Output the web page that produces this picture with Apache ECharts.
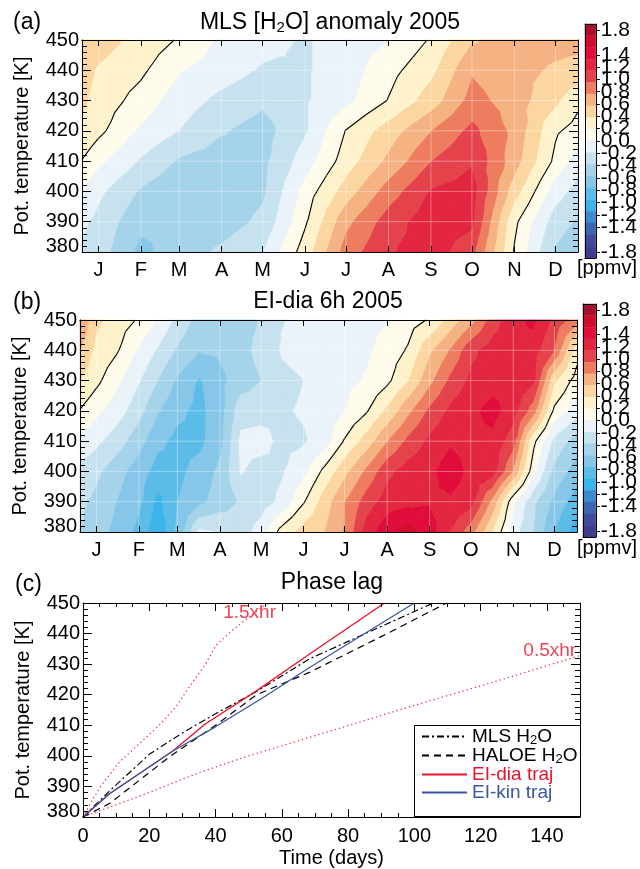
<!DOCTYPE html>
<html><head><meta charset="utf-8">
<script src="https://cdn.jsdelivr.net/npm/echarts@6/dist/echarts.min.js"></script>
<style>html,body{margin:0;padding:0;background:#fff}#c{width:640px;height:869px}</style>
</head><body><div id="c"></div>
<script>
const FONT = '"Liberation Sans", Arial, Helvetica, sans-serif';

// ---------- shared axes ----------
const monthDays = [15,46,74,105,135,166,196,227,258,288,319,349];
const monthLabels = ['J','F','M','A','M','J','J','A','S','O','N','D'];
const levelsK = [380,390,400,410,420,430,440,450];

// ---------- panel (a): MLS H2O anomaly 2005 (ppmv), rows = levelsK ----------
const mlsDays = [3,15,46,74,105,135,166,196,227,258,288,319,349,365.5];
const mlsAnomaly = [
  [-0.42,-0.50,-0.85,-0.70,-0.56,-0.40, 0.10, 0.70, 0.98, 1.10, 0.88,-0.02,-0.62,-0.75], // 380
  [-0.36,-0.45,-0.75,-0.75,-0.70,-0.55,-0.03, 0.55, 0.90, 1.12, 1.05, 0.05,-0.50,-0.62], // 390
  [-0.20,-0.35,-0.62,-0.75,-0.75,-0.63,-0.12, 0.30, 0.70, 1.02, 1.10, 0.30,-0.30,-0.48], // 400
  [-0.01,-0.15,-0.42,-0.62,-0.70,-0.65,-0.30, 0.10, 0.45, 0.80, 0.98, 0.50,-0.05,-0.30], // 410
  [ 0.17, 0.05,-0.23,-0.40,-0.58,-0.68,-0.42, 0.01, 0.30, 0.60, 0.86, 0.55, 0.03,-0.08], // 420
  [ 0.25, 0.12,-0.08,-0.30,-0.45,-0.56,-0.42,-0.25, 0.01, 0.30, 0.68, 0.50, 0.25, 0.05], // 430
  [ 0.30, 0.18, 0.04,-0.18,-0.30,-0.42,-0.42,-0.30,-0.07, 0.15, 0.58, 0.45, 0.38, 0.35], // 440
  [ 0.35, 0.30, 0.13,-0.02,-0.23,-0.33,-0.42,-0.30,-0.20, 0.02, 0.38, 0.48, 0.45, 0.45]  // 450
];

// ---------- panel (b): EI-dia 6h 2005 (ppmv), rows = levelsK ----------
const eiDays = [3,15,30,46,60,74,90,105,120,135,150,166,181,196,212,227,242,258,273,288,304,319,334,349,365.5];
const eiAnomaly = [
  [-0.60,-0.72,-0.85,-1.05,-1.35,-0.95,-0.35,-0.40,-0.50,-0.30, 0.08, 0.30, 0.40, 0.62, 1.10, 1.35, 1.50, 1.30, 1.00, 0.70, 0.20,-0.30,-0.60,-1.00,-1.30], // 380
  [-0.55,-0.65,-0.80,-0.95,-1.25,-1.00,-0.85,-0.70,-0.58,-0.50,-0.35,-0.02, 0.30, 0.60, 0.90, 1.10, 1.15, 1.18, 1.17, 1.10, 0.55,-0.15,-0.55,-0.85,-1.10], // 390
  [-0.45,-0.55,-0.72,-0.90,-1.08,-1.05,-0.92,-0.75,-0.38,-0.48,-0.42,-0.25, 0.05, 0.35, 0.65, 0.95, 1.10, 1.15, 1.32, 1.15, 1.10, 0.60,-0.15,-0.65,-0.90], // 400
  [-0.25,-0.35,-0.50,-0.72,-0.95,-1.05,-1.05,-0.85,-0.35,-0.32,-0.45,-0.42,-0.30, 0.02, 0.30, 0.60, 0.85, 1.05, 1.17, 1.15, 1.15, 0.90, 0.05,-0.45,-0.70], // 410
  [-0.01,-0.15,-0.30,-0.52,-0.78,-0.95,-1.05,-0.88,-0.48,-0.47,-0.42,-0.38,-0.30,-0.20,-0.02, 0.25, 0.55, 0.85, 1.05, 1.15, 1.28, 1.10, 0.70,-0.05,-0.30], // 420
  [ 0.20, 0.05,-0.15,-0.38,-0.60,-0.82,-1.02,-0.85,-0.70,-0.60,-0.45,-0.40,-0.32,-0.25,-0.18,-0.05, 0.20, 0.55, 0.85, 1.05, 1.12, 1.12, 1.05, 0.25,-0.10], // 430
  [ 0.42, 0.15, 0.02,-0.22,-0.42,-0.62,-0.78,-0.76,-0.68,-0.52,-0.38,-0.33,-0.30,-0.28,-0.23,-0.12, 0.02, 0.37, 0.62, 0.95, 1.10, 1.15, 1.10, 0.80, 0.10], // 440
  [ 0.62, 0.25, 0.10,-0.02,-0.21,-0.45,-0.68,-0.72,-0.70,-0.58,-0.41,-0.35,-0.30,-0.28,-0.25,-0.21,-0.10, 0.02, 0.28, 0.53, 0.90, 1.15, 1.25, 0.95, 0.70]  // 450
];

// ---------- colour scale ----------
const bandColors = ['#a8112b','#cf0e2c','#e00d3b','#e3263f','#e4434b','#ee7d60','#f5b283','#fcd6a1','#fef2cb','#fffbea',
                    '#eaf3f9','#c7e2ef','#a5d3ea','#86c6e8','#5cbce8','#3bb4ea','#3d8bcb','#3a67ad','#3f4a9c','#3f3b8d'];
const bandLows = [1.6,1.4,1.2,1.0,0.8,0.6,0.4,0.2,0.0,-0.2,-0.4,-0.6,-0.8,-1.0,-1.2,-1.4,-1.6,-1.8,-2.0];
const colorbarLabels = [1.8,1.6,1.4,1.2,1.0,0.8,0.6,0.4,0.2,0.0,-0.2,-0.4,-0.6,-0.8,-1.0,-1.2,-1.4,-1.6,-1.8];

// ---------- panel (c): phase lag ----------
const lagTickLabels = [0,20,40,60,80,100,120,140];
const mlsLagDays = [0,8,20,30,40,52,68.5,105.7];
const mlsLagTheta = [380,388.5,400.5,407.5,413.8,420.8,431.8,450];
const haloeLagDays = [0,8,17,26,40,52.4,68.5,90,109.8];
const haloeLagTheta = [380,384.4,392,399.6,410,420,427.4,439,450];
const diaDays = [0,8,27,37,52,68.5,91];
const diaTheta = [380,387.6,401.5,410.5,421,433.4,450];
const kinDays = [0,8,27,40,55,68.5,100];
const kinTheta = [380,387.6,401.5,409.5,419.5,429,450];
const hr15Days = [0,3,6,11,17,23,28,33,37,40,45,52,56];
const hr15Theta = [380,386,391,398,404,410,416,424,430,436,441,447,450];
const hr05Days = [0,10,20,35,50,68.5,100,125,150];
const hr05Theta = [380,384,388,394.5,400,406.1,416.5,424.5,432.8];

const zip = (a,b) => a.map((v,i)=>[v,b[i]]);

function bandIndex(v){ for (let k=0;k<bandLows.length;k++) if (v >= bandLows[k]) return k; return bandLows.length; }
function clip(poly, level, keepAbove){
  const out=[];
  for (let i=0;i<poly.length;i++){
    const a=poly[i], b=poly[(i+1)%poly.length];
    const ina = keepAbove ? a[2]>=level : a[2]<=level;
    const inb = keepAbove ? b[2]>=level : b[2]<=level;
    if (ina) out.push(a);
    if (ina!==inb){ const t=(level-a[2])/(b[2]-a[2]); out.push([a[0]+t*(b[0]-a[0]), a[1]+t*(b[1]-a[1]), level]); }
  }
  return out;
}
function fillTriangle(tri, children){
  const vs = tri.map(p=>p[2]);
  const kTop = bandIndex(Math.max(...vs)), kBot = bandIndex(Math.min(...vs));
  for (let k=kTop;k<=kBot;k++){
    let poly = tri;
    const lo = k < bandLows.length ? bandLows[k] : -Infinity;
    const hi = k > 0 ? bandLows[k-1] : Infinity;
    if (lo > -Infinity) poly = clip(poly, lo, true);
    if (poly.length>=3 && hi < Infinity) poly = clip(poly, hi, false);
    if (poly.length>=3) children.push({type:'polygon', shape:{points: poly.map(p=>[p[0],p[1]])},
      style:{fill: bandColors[k], stroke: bandColors[k], lineWidth: 0.8}});
  }
}
function contourSeries(days, rows, xi, yi){
  const cells=[];
  for (let r=0;r<levelsK.length-1;r++) for (let c=0;c<days.length-1;c++) cells.push([c,r]);
  const tris = (api,c,r) => {
    const P=(cc,rr)=>{const p=api.coord([days[cc], levelsK[rr]]); return [p[0],p[1],rows[rr][cc]];};
    const a=P(c,r), b=P(c+1,r), d=P(c+1,r+1), e=P(c,r+1);
    const m=[(a[0]+b[0]+d[0]+e[0])/4,(a[1]+b[1]+d[1]+e[1])/4,(a[2]+b[2]+d[2]+e[2])/4];
    return [[a,b,m],[b,d,m],[d,e,m],[e,a,m]];
  };
  const fill = {type:'custom', xAxisIndex:xi, yAxisIndex:yi, data:cells, z:1, silent:true, animation:false,
    renderItem:(params,api)=>{ const [c,r]=cells[params.dataIndex]; const ch=[]; for (const t of tris(api,c,r)) fillTriangle(t,ch); return {type:'group', children:ch}; }};
  const gridLines = [...monthDays.map(d=>['v',d]), ...[390,400,410,420,430,440].map(k=>['h',k])];
  const faint = {type:'custom', xAxisIndex:xi, yAxisIndex:yi, data:gridLines.map((g,i)=>[i]), z:2, silent:true, animation:false,
    renderItem:(params,api)=>{ const g=gridLines[params.dataIndex];
      const p1 = g[0]==='v'? api.coord([g[1],380]) : api.coord([days[0],g[1]]);
      const p2 = g[0]==='v'? api.coord([g[1],450]) : api.coord([days[days.length-1],g[1]]);
      return {type:'line', shape:{x1:p1[0],y1:p1[1],x2:p2[0],y2:p2[1]}, style:{stroke:'rgba(255,255,255,0.35)', lineWidth:1}}; }};
  const zero = {type:'custom', xAxisIndex:xi, yAxisIndex:yi, data:cells, z:3, silent:true, animation:false,
    renderItem:(params,api)=>{ const [c,r]=cells[params.dataIndex]; const ch=[];
      for (const t of tris(api,c,r)){
        const pts=[];
        for (let i=0;i<3;i++){ const a=t[i], b=t[(i+1)%3];
          if ((a[2]<0)!==(b[2]<0)){ const s=(0-a[2])/(b[2]-a[2]); pts.push([a[0]+s*(b[0]-a[0]), a[1]+s*(b[1]-a[1])]); } }
        if (pts.length===2) ch.push({type:'line', shape:{x1:pts[0][0],y1:pts[0][1],x2:pts[1][0],y2:pts[1][1]}, style:{stroke:'#000', lineWidth:1.1}});
      }
      return {type:'group', children:ch}; }};
  return [fill, faint, zero];
}
function colorbarSeries(xi, yi){
  return {type:'custom', xAxisIndex:xi, yAxisIndex:yi, data:bandColors.map((c,i)=>[i]), z:1, silent:true, animation:false,
    renderItem:(params,api)=>{ const i=params.dataIndex; const top=1.9-0.19*i, bot=1.9-0.19*(i+1);
      const p1=api.coord([0,top]), p2=api.coord([1,bot]);
      return {type:'rect', shape:{x:p1[0], y:p1[1], width:p2[0]-p1[0], height:p2[1]-p1[1]}, style:{fill:bandColors[i], stroke:bandColors[i], lineWidth:0.5}}; }};
}

const black = {color:'#000', width:1};
const lblStyle = {color:'#000', fontSize:20, fontFamily:FONT};
function monthX(gi, pos){
  return {gridIndex:gi, type:'value', min:3, max:365.5, position:pos, z:10,
    axisLine:{show:true, onZero:false, lineStyle:black},
    axisTick:{show:true, inside:true, length:6, customValues:monthDays, lineStyle:black},
    axisLabel: pos==='bottom' ? Object.assign({show:true, customValues:monthDays, margin:8, formatter:v=>monthLabels[monthDays.indexOf(v)]}, lblStyle) : {show:false},
    splitLine:{show:false}};
}
function thetaY(gi, pos){
  const o = {gridIndex:gi, type:'value', min:380, max:450, interval:10, position:pos, z:10,
    axisLine:{show:true, onZero:false, lineStyle:black},
    axisTick:{show:true, inside:true, length:9, lineStyle:black},
    minorTick:{show:true, splitNumber:5, length:5, lineStyle:black},
    splitLine:{show:false}, minorSplitLine:{show:false}};
  if (pos==='left'){
    o.axisLabel = Object.assign({margin:3, formatter:v=> v===380 ? '{lo|380}' : String(v), rich:{lo:{fontSize:20, fontFamily:FONT, color:'#000', padding:[0,0,12,0]}}}, lblStyle);
    o.name='Pot. temperature [K]'; o.nameLocation='middle'; o.nameGap=50;
    o.nameTextStyle={fontSize:20, fontFamily:FONT, color:'#000'};
  } else o.axisLabel={show:false};
  return o;
}
function cbX(gi,pos){ return {gridIndex:gi, type:'value', min:0, max:1, position:pos, z:10, axisLine:{show:true, onZero:false, lineStyle:black}, axisTick:{show:false}, axisLabel:{show:false}, splitLine:{show:false}}; }
function cbY(gi,pos){
  const o={gridIndex:gi, type:'value', min:-1.9, max:1.9, position:pos, z:10, axisLine:{show:true, onZero:false, lineStyle:black}, splitLine:{show:false}};
  if (pos==='right'){
    o.axisTick={show:true, inside:false, length:4, customValues:colorbarLabels, lineStyle:black};
    o.axisLabel={show:true, customValues:colorbarLabels, showMinLabel:true, showMaxLabel:true, hideOverlap:false,
      formatter:v=>v.toFixed(1), margin:5, color:'#000', fontSize:21, fontFamily:FONT};
  } else { o.axisTick={show:false}; o.axisLabel={show:false}; }
  return o;
}
const lagX = (pos)=>({gridIndex:2, type:'value', min:0, max:150, interval:20, position:pos, z:10,
  axisLine:{show:true, onZero:false, lineStyle:black},
  axisTick:{show:true, inside:true, length:8, lineStyle:black},
  minorTick:{show:true, splitNumber:4, length:4, lineStyle:black},
  axisLabel: pos==='bottom' ? {show:true, customValues:lagTickLabels, margin:9, color:'#000', fontSize:20, fontFamily:FONT} : {show:false},
  name: pos==='bottom' ? 'Time (days)' : '', nameLocation:'middle', nameGap:31, nameTextStyle:{fontSize:20, fontFamily:FONT, color:'#000'},
  splitLine:{show:false}, minorSplitLine:{show:false}});

const RED='#e8132d', BLUE='#3a56a5', DOT='#ee3344';

const option = {
  animation:false,
  textStyle:{fontFamily:FONT},
  grid:[
    {left:82, top:40, width:496, height:212},
    {left:80, top:320, width:497, height:212},
    {left:83, top:603, width:497, height:214},
    {left:585, top:24, width:19, height:234},
    {left:583, top:304, width:20, height:233}
  ],
  xAxis:[monthX(0,'bottom'), monthX(0,'top'), monthX(1,'bottom'), monthX(1,'top'), lagX('bottom'), lagX('top'),
         cbX(3,'bottom'), cbX(3,'top'), cbX(4,'bottom'), cbX(4,'top')],
  yAxis:[thetaY(0,'left'), thetaY(0,'right'), thetaY(1,'left'), thetaY(1,'right'),
         thetaY(2,'left'), thetaY(2,'right'),
         cbY(3,'left'), cbY(3,'right'), cbY(4,'left'), cbY(4,'right')],
  legend:{left:421, top:727, orient:'vertical', itemWidth:45, itemHeight:10, itemGap:-1, padding:0, z:20,
    selectedMode:false, itemStyle:{opacity:0, borderWidth:0},
    data:[{name:'MLS H2O', textStyle:{color:'#000'}}, {name:'HALOE H2O', textStyle:{color:'#000'}},
          {name:'EI-dia traj', textStyle:{color:RED}}, {name:'EI-kin traj', textStyle:{color:BLUE}}],
    formatter: n => n.replace('H2O','H{s|2}O'),
    textStyle:{fontSize:19, fontFamily:FONT, rich:{s:{fontSize:13, fontFamily:FONT, padding:[8,0,0,0]}}}},
  graphic:[
    {type:'rect', z:15, shape:{x:414.5, y:725.5, width:166, height:91}, style:{fill:'#fff', stroke:'#000', lineWidth:1}},
    {type:'text', x:13, y:23, style:{text:'(a)', fontSize:23, fontFamily:FONT, fill:'#000', verticalAlign:'middle'}},
    {type:'text', x:13, y:303, style:{text:'(b)', fontSize:23, fontFamily:FONT, fill:'#000', verticalAlign:'middle'}},
    {type:'text', x:15, y:585, style:{text:'(c)', fontSize:23, fontFamily:FONT, fill:'#000', verticalAlign:'middle'}},
    {type:'text', x:330, y:23, style:{text:'{t|MLS [H}{s|2}{t|O] anomaly 2005}', align:'center', verticalAlign:'middle', fill:'#000',
      rich:{t:{fontSize:23, fontFamily:FONT}, s:{fontSize:15, fontFamily:FONT, padding:[10,0,0,0]}}}},
    {type:'text', x:328, y:302, style:{text:'EI-dia 6h 2005', align:'center', verticalAlign:'middle', fill:'#000', fontSize:23, fontFamily:FONT}},
    {type:'text', x:332, y:583, style:{text:'Phase lag', align:'center', verticalAlign:'middle', fill:'#000', fontSize:23, fontFamily:FONT}},
    {type:'text', x:607, y:268, style:{text:'[ppmv]', align:'center', verticalAlign:'middle', fill:'#000', fontSize:20, fontFamily:FONT}},
    {type:'text', x:607, y:548, style:{text:'[ppmv]', align:'center', verticalAlign:'middle', fill:'#000', fontSize:20, fontFamily:FONT}}
  ],
  series:[
    ...contourSeries(mlsDays, mlsAnomaly, 0, 0),
    ...contourSeries(eiDays, eiAnomaly, 2, 2),
    colorbarSeries(6,6),
    colorbarSeries(8,8),
    {name:'1.5xhr', type:'line', xAxisIndex:4, yAxisIndex:4, data:zip(hr15Days,hr15Theta), symbol:'none',
      lineStyle:{color:DOT, width:1.3, type:[1.3,3]}},
    {name:'0.5xhr', type:'line', xAxisIndex:4, yAxisIndex:4, data:zip(hr05Days,hr05Theta), symbol:'none',
      lineStyle:{color:DOT, width:1.3, type:[1.3,3]}},
    {name:'MLS H2O', type:'line', xAxisIndex:4, yAxisIndex:4, data:zip(mlsLagDays,mlsLagTheta), symbol:'none', color:'#000',
      lineStyle:{color:'#000', width:1.2, type:[7,3,2,3]}},
    {name:'HALOE H2O', type:'line', xAxisIndex:4, yAxisIndex:4, data:zip(haloeLagDays,haloeLagTheta), symbol:'none', color:'#000',
      lineStyle:{color:'#000', width:1.2, type:[7,5]}},
    {name:'EI-dia traj', type:'line', xAxisIndex:4, yAxisIndex:4, data:zip(diaDays,diaTheta), symbol:'none', color:RED,
      lineStyle:{color:RED, width:1.3}},
    {name:'EI-kin traj', type:'line', xAxisIndex:4, yAxisIndex:4, data:zip(kinDays,kinTheta), symbol:'none', color:BLUE,
      lineStyle:{color:BLUE, width:1.3}},
    {type:'scatter', xAxisIndex:4, yAxisIndex:4, symbolSize:0, silent:true, data:[[42.3,446.9]],
      label:{show:true, position:'right', distance:0, formatter:'1.5xhr', color:RED, fontSize:19, fontFamily:FONT}},
    {type:'scatter', xAxisIndex:4, yAxisIndex:4, symbolSize:0, silent:true, data:[[132.9,434.5]],
      label:{show:true, position:'right', distance:0, formatter:'0.5xhr', color:RED, fontSize:19, fontFamily:FONT}}
  ]
};
const chart = echarts.init(document.getElementById('c'), null, {renderer:'canvas'});
chart.setOption(option);
</script></body></html>
